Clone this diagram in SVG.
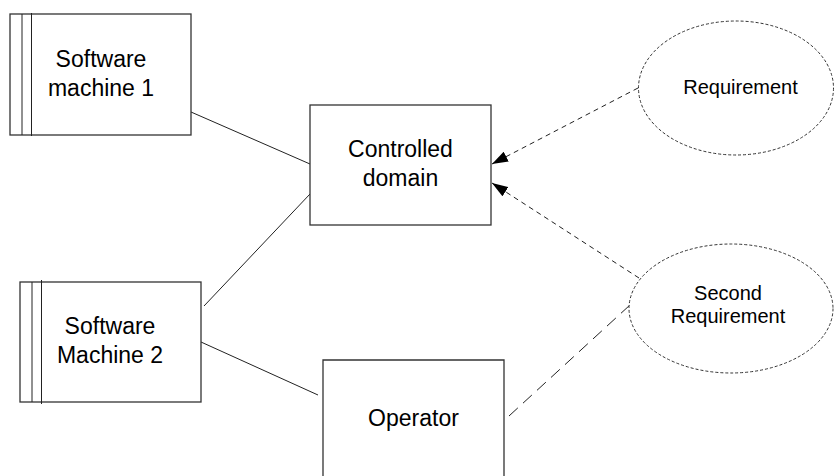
<svg xmlns="http://www.w3.org/2000/svg" width="835" height="476" viewBox="0 0 835 476">
<style>
.box{fill:#fff;stroke:#333;stroke-width:1.3}
.ln{fill:none;stroke:#222;stroke-width:1}
.ell{fill:#fff;stroke:#333;stroke-width:1;stroke-dasharray:3 2}
.dash{fill:none;stroke:#222;stroke-width:1;stroke-dasharray:5 4}
.ldash{fill:none;stroke:#222;stroke-width:1;stroke-dasharray:12 7}
.t{font-family:"Liberation Sans",Arial,sans-serif;font-size:23px;fill:#000;text-anchor:middle}
.ts{font-family:"Liberation Sans",Arial,sans-serif;font-size:20px;fill:#000;text-anchor:middle}
</style>
<defs>
<marker id="ah" viewBox="0 0 16 11" refX="16" refY="5.5" markerWidth="16" markerHeight="11" markerUnits="userSpaceOnUse" orient="auto">
<path d="M0,0 L16,5.5 L0,11 Z" fill="#000"/>
</marker>
</defs>
<g id="connectors">
<line class="ln" x1="191" y1="112" x2="310" y2="164"/>
<line class="ln" x1="204" y1="306" x2="310" y2="194"/>
<line class="ln" x1="201" y1="342" x2="318" y2="395"/>
<line class="dash" x1="638" y1="88" x2="492" y2="164" marker-end="url(#ah)"/>
<line class="dash" x1="639" y1="278" x2="492" y2="183" marker-end="url(#ah)"/>
<line class="ldash" x1="509" y1="416" x2="630" y2="305"/>
</g>
<g id="sm1">
<rect class="box" x="10" y="14" width="181" height="121"/>
<line class="ln" x1="22" y1="14" x2="22" y2="135"/>
<line class="ln" x1="31.5" y1="13" x2="31.5" y2="136"/>
<text class="t" x="101" y="67">Software</text>
<text class="t" x="101" y="96">machine 1</text>
</g>
<g id="controlled">
<rect class="box" x="310" y="105" width="181" height="120"/>
<text class="t" x="400.5" y="157">Controlled</text>
<text class="t" x="400.5" y="186">domain</text>
</g>
<g id="sm2">
<rect class="box" x="20" y="282" width="181" height="120"/>
<line class="ln" x1="32" y1="282" x2="32" y2="402"/>
<line class="ln" x1="41.5" y1="280" x2="41.5" y2="404"/>
<text class="t" x="110" y="334">Software</text>
<text class="t" x="110" y="363">Machine 2</text>
</g>
<g id="operator">
<path class="box" d="M323,477 L323,360 L504,360 L504,477"/>
<text class="t" x="413.5" y="426">Operator</text>
</g>
<g id="req">
<ellipse class="ell" cx="736" cy="88" rx="97.5" ry="67"/>
<text class="ts" x="740.5" y="94">Requirement</text>
</g>
<g id="req2">
<ellipse class="ell" cx="731" cy="308.5" rx="102" ry="64.5"/>
<text class="ts" x="728" y="300">Second</text>
<text class="ts" x="728" y="323">Requirement</text>
</g>
</svg>
